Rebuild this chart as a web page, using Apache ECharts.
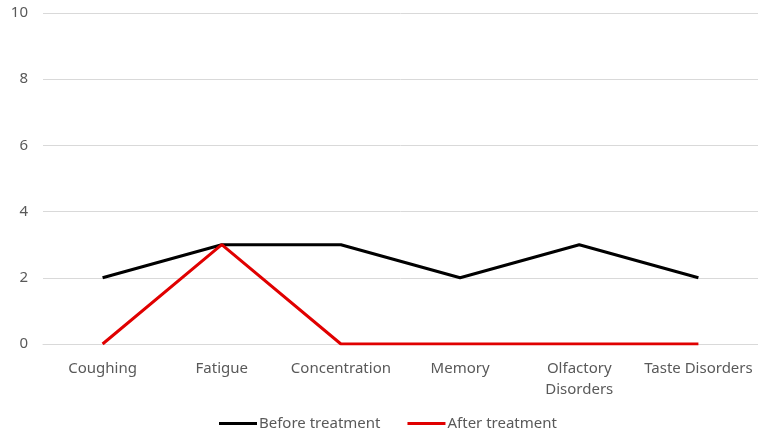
<!DOCTYPE html>
<html>
<head>
<meta charset="utf-8">
<script src="https://cdn.jsdelivr.net/npm/echarts@6/dist/echarts.min.js"></script>
<style>
  html, body { margin: 0; padding: 0; background: #fff; }
  #chart { width: 758px; height: 436px; }
</style>
</head>
<body>
<div id="chart"></div>
<script>
const categories = ['Coughing', 'Fatigue', 'Concentration', 'Memory', 'Olfactory\nDisorders', 'Taste Disorders']
const beforeTreatment = [2, 3, 3, 2, 3, 2]
const afterTreatment = [0, 3, 0, 0, 0, 0]
const yTicks = { min: 0, max: 10, interval: 2 }

const chart = echarts.init(document.getElementById('chart'))

const font = "'Noto Sans', sans-serif"

chart.setOption({
  animation: false,
  textStyle: { fontFamily: font },
  grid: {
    top: 13,
    left: 43,
    right: 0,
    bottom: 92,
    containLabel: false
  },
  legend: {
    bottom: 0,
    left: 214,
    itemWidth: 38,
    itemHeight: 3,
    itemGap: 27,
    icon: 'rect',
    textStyle: { color: '#595959', fontSize: 15, fontFamily: font, padding: [0, 0, 0, -3] },
    data: ['Before treatment', 'After treatment']
  },
  xAxis: {
    type: 'category',
    data: categories,
    boundaryGap: true,
    axisLine: { show: true, lineStyle: { color: '#d9d9d9' } },
    axisTick: { show: false },
    axisLabel: {
      interval: 0,
      color: '#595959',
      fontSize: 15,
      margin: 14,
      lineHeight: 21
    }
  },
  yAxis: {
    type: 'value',
    min: yTicks.min,
    max: yTicks.max,
    interval: yTicks.interval,
    axisLine: { show: false },
    axisTick: { show: false },
    axisLabel: { color: '#595959', fontSize: 15, margin: 15 },
    splitLine: { lineStyle: { color: '#d9d9d9' } }
  },
  series: [
    {
      name: 'Before treatment',
      type: 'line',
      data: beforeTreatment,
      showSymbol: false,
      symbol: 'none',
      lineStyle: { color: '#000', width: 3 },
      itemStyle: { color: '#000' }
    },
    {
      name: 'After treatment',
      type: 'line',
      data: afterTreatment,
      showSymbol: false,
      symbol: 'none',
      lineStyle: { color: '#e00000', width: 3 },
      itemStyle: { color: '#e00000' }
    }
  ]
})
</script>
</body>
</html>
